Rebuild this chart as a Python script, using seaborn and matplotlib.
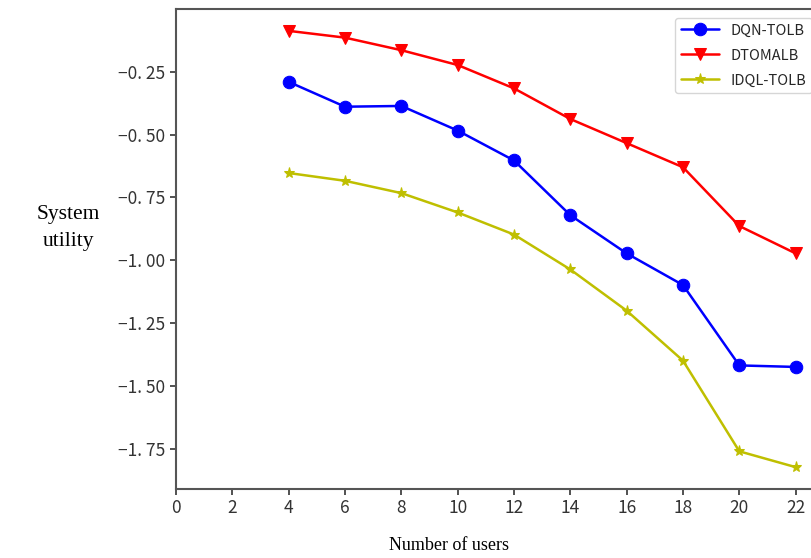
import numpy as np
import pandas as pd
import seaborn as sns
import matplotlib
matplotlib.use("Agg")
import matplotlib.pyplot as plt

# values
users = [4, 6, 8, 10, 12, 14, 16, 18, 20, 22]
dqn_tolb = [-0.290, -0.389, -0.386, -0.484, -0.603, -0.821, -0.973, -1.099, -1.419, -1.425]
dtomalb = [-0.087, -0.114, -0.164, -0.223, -0.316, -0.438, -0.534, -0.630, -0.864, -0.973]
idql_tolb = [-0.653, -0.684, -0.733, -0.810, -0.898, -1.037, -1.201, -1.400, -1.761, -1.824]

names = ["DQN-TOLB", "DTOMALB", "IDQL-TOLB"]
colors = ["b", "r", "y"]
markers = ["o", "v", "*"]
msizes = [9, 9, 8]

df = pd.DataFrame({
    "users": users * 3,
    "utility": dqn_tolb + dtomalb + idql_tolb,
    "method": [n for n in names for _ in users],
})

sns.set_style("ticks")
plt.rcParams["font.family"] = ["Noto Sans CJK SC", "DejaVu Sans"]

fig = plt.figure(figsize=(8.11, 5.58), dpi=100)
# axes runs a bit past the right edge like in the (cropped) reference
ax = fig.add_axes([176 / 811, 1 - 489 / 558, 645 / 811, 480 / 558])

for name, c, m, ms in zip(names, colors, markers, msizes):
    sub = df[df["method"] == name]
    sns.lineplot(data=sub, x="users", y="utility", ax=ax, color=c, marker=m,
                 markersize=ms, markeredgecolor=c, linewidth=1.8, label=name)

ax.set_xlim(0, 22.9)
ax.set_ylim(-1.911, 0.0)
ax.set_xticks(np.arange(0, 23, 2))
ax.set_yticks([-0.25, -0.5, -0.75, -1.0, -1.25, -1.5, -1.75])
ax.set_yticklabels(["\u22120. 25", "\u22120. 50", "\u22120. 75", "\u22121. 00",
                    "\u22121. 25", "\u22121. 50", "\u22121. 75"])
ax.tick_params(labelsize=12.5, colors="#333333", length=4, width=1.2)
for s in ax.spines.values():
    s.set_color("#555555")
    s.set_linewidth(1.5)

ax.set_xlabel("Number of users", family="Liberation Serif", fontsize=13,
              color="black", va="center")
ax.xaxis.set_label_coords(0.423, -0.117)
ax.set_ylabel("System\nutility", family="Liberation Serif", fontsize=15.5,
              rotation=0, ha="center", va="center", color="black", linespacing=1.6)
ax.yaxis.set_label_coords(-0.167, 0.544)

leg = ax.legend(loc="upper right", fontsize=10.5, frameon=True, fancybox=True,
                handlelength=2.6, borderaxespad=0.6, labelspacing=0.75)
leg.get_frame().set_edgecolor("#cccccc")

fig.savefig("out.png", dpi=100)
